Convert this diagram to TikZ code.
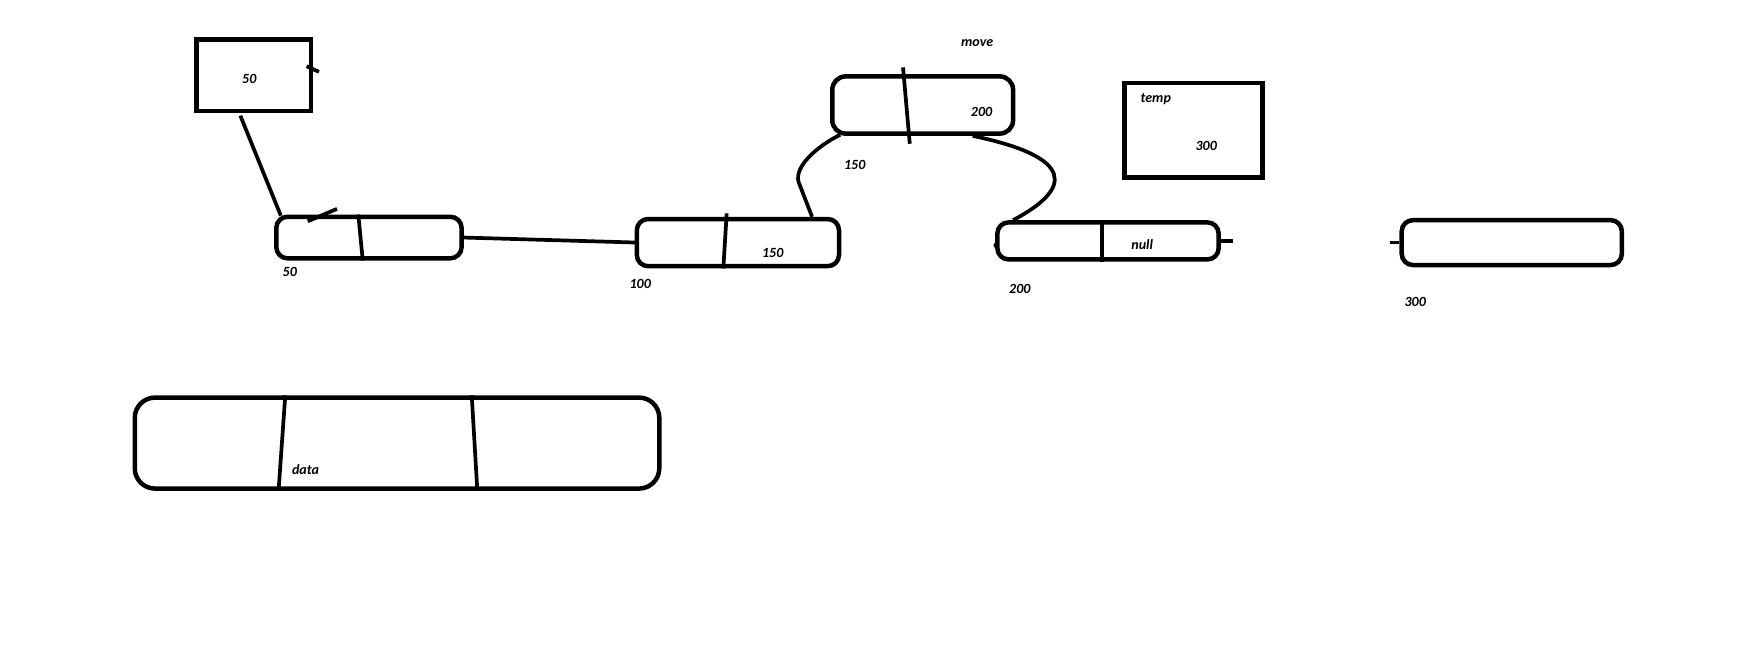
\documentclass[tikz,border=0pt]{standalone}
\usepackage{fontspec}
\setmainfont{Carlito}
\usetikzlibrary{calc}
\begin{document}
\begin{tikzpicture}[x=1pt,y=-1pt,line width=3.3pt,
  lbl/.style={font=\bfseries\itshape\fontsize{12.5}{14}\selectfont,inner sep=0pt},
  sqbox/.style={draw,line width=4pt,inner sep=0pt,anchor=north west},
  cell/.style={draw,line width=4pt,rounded corners=10pt,inner sep=0pt,anchor=north west}]
\useasboundingbox (0,0) rectangle (1567,577);
% boxes
\node[sqbox,minimum width=102pt,minimum height=64pt](head)at(173,33){};
\node[cell,minimum width=165pt,minimum height=37pt](n50)at(244,191){};
\node[cell,minimum width=180pt,minimum height=42pt](n100)at(565,193){};
\node[cell,rounded corners=12pt,minimum width=161pt,minimum height=51pt](move)at(739,66){};
\node[cell,minimum width=197pt,minimum height=33pt](n200)at(886,196){};
\node[sqbox,minimum width=123pt,minimum height=84pt](temp)at(999,72){};
\node[cell,minimum width=196pt,minimum height=40pt](n300)at(1246,194){};
\node[cell,rounded corners=18pt,minimum width=467pt,minimum height=81pt](data)at(118,352){};
% dividers
\draw($(n50.north west)+(75,0)$)--($(n50.south west)+(79,0)$);
\draw($(n100.north west)+(82,-3)$)--($(n100.south west)+(79,0)$);
\draw($(move.north west)+(65,-6)$)--($(move.south west)+(71,7)$);
\draw($(n200.north west)+(95,0)$)--($(n200.south west)+(95,0)$);
\draw($(data.north west)+(136,0)$)--($(data.south west)+(130,0)$);
\draw($(data.north west)+(302,0)$)--($(data.south west)+(307,0)$);
% marks
\draw($(head.north east)+(-6,26)$)--($(head.north east)+(5,31)$);
\draw($(n50.north west)+(30,6)$)--($(n50.north west)+(56,-5)$);
\draw(n200.east)--($(n200.east)+(11,0)$);
\draw($(n300.west)+(-8,0)$)--(n300.west);
\fill($(n200.west)+(1,4)$)circle(2.5pt);
% links
\draw($(head.south west)+(41,2)$)--($(n50.north west)+(6,1)$);
\draw(n50.east)--($(n100.west)+(3,0)$);
\draw($(n100.north east)+(-26,0)$)--(711,162)..controls(707,148)and(728,130)..($(move.south west)+(9,-1)$);
\draw($(move.south west)+(127,0)$)..controls(958,140)and(955,168)..($(n200.north west)+(16,0)$);
% labels
\node[lbl](t50)at(222,70){50};
\node[lbl](a50)at(258,242){50};
\node[lbl](a100)at(570,253){100};
\node[lbl](v150)at(688,225){150};
\node[lbl](m150)at(761,147){150};
\node[lbl](mv)at(870,38){move};
\node[lbl](v200)at(874,100){200};
\node[lbl](nl)at(1017,218){null};
\node[lbl](a200)at(908,257){200};
\node[lbl](tp)at(1029,88){temp};
\node[lbl](t300)at(1074,130){300};
\node[lbl](a300)at(1260,269){300};
\node[lbl](dt)at(272,418){data};
\end{tikzpicture}
\end{document}
